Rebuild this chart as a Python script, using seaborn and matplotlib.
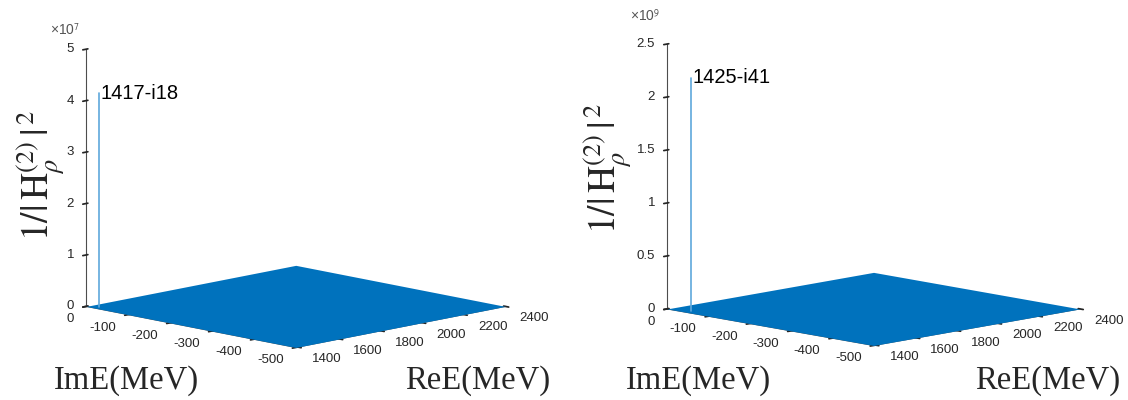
import matplotlib
matplotlib.use("Agg")
import matplotlib.pyplot as plt
from mpl_toolkits.mplot3d import proj3d
import seaborn as sns
import numpy as np

# surface domain (MeV)
re_range = [1390, 2400]
im_range = [-500, 0]
re_ticks = [1400, 1600, 1800, 2000, 2200, 2400]
im_ticks = [0, -100, -200, -300, -400, -500]

# pole positions and peak heights, one per panel
peak_re = [1417, 1425]
peak_im = [-18, -41]
peak_height = [4.15e7, 2.2e9]
peak_labels = ["1417-i18", "1425-i41"]
z_max = [5e7, 2.5e9]
z_ticks = [[0, 1, 2, 3, 4, 5], [0, 0.5, 1, 1.5, 2, 2.5]]
z_exp = [7, 9]

sns.set_theme(style="white")
plt.rcParams['font.family'] = ['Liberation Sans', 'DejaVu Sans']
plt.rcParams['mathtext.fontset'] = 'stix'
plt.rcParams['axes.unicode_minus'] = False

SURF = '#0072BD'
TXT = '#262626'

fig = plt.figure(figsize=(11.28, 4), dpi=100)
positions = [[0.0074, 0.042, 0.5, 1.0], [0.5196, 0.0453, 0.5, 1.0]]
elev = [11.3, 10.2]
z_aspect = [0.885, 0.922]
zoom = [1.20, 1.196]
exp_pos = [(0.0443, 0.912), (0.5585, 0.947)]
zlab_pos = [(0.037, 0.5625), (0.5395, 0.58)]
imlab_x = [0.0479, 0.555]
relab_x = [0.359, 0.8644]

axes = []
for i in range(2):
    ax = fig.add_axes(positions[i], projection='3d')
    ax.set_proj_type('ortho')
    ax.computed_zorder = False
    ax.patch.set_alpha(0)
    RE, IM = np.meshgrid(re_range, im_range)
    Z = np.zeros_like(RE, dtype=float)
    surf = ax.plot_surface(RE, IM, Z, color=SURF, shade=False, linewidth=0,
                           antialiased=False, zorder=1)
    surf.set_clip_on(False)
    spike, = ax.plot([peak_re[i], peak_re[i]], [peak_im[i], peak_im[i]],
                     [0, peak_height[i]], color='#5fa8dc', lw=1.2, zorder=3)
    spike.set_clip_on(False)

    ax.set_xlim(re_range)
    ax.set_ylim(im_range)
    ax.set_zlim(0, z_max[i])
    scale = 10 ** z_exp[i]
    ax.set_xticks(re_ticks)
    ax.set_yticks(im_ticks)
    ax.set_zticks([t * scale for t in z_ticks[i]])
    ax.set_xticklabels([])
    ax.set_yticklabels([])
    ax.set_zticklabels([])
    ax.grid(False)
    for axis in (ax.xaxis, ax.yaxis, ax.zaxis):
        axis.set_pane_color((1, 1, 1, 0))
        axis.line.set_color('#4d4d4d')
        axis.line.set_linewidth(0.8)
        axis.line.set_clip_on(False)
    ax.view_init(elev=elev[i], azim=-135)
    ax.set_box_aspect((1, 1, z_aspect[i]), zoom=zoom[i])
    axes.append(ax)

    fig.text(exp_pos[i][0], exp_pos[i][1], r'×10$^{\mathsf{%d}}$' % z_exp[i],
             fontsize=10, color='#555555', va='baseline')
    fig.text(imlab_x[i], 0.0275, 'ImE(MeV)', family='Liberation Serif', fontsize=23.5,
             color=TXT, va='baseline')
    fig.text(relab_x[i], 0.0275, 'ReE(MeV)', family='Liberation Serif', fontsize=23.5,
             color=TXT, va='baseline')
    fig.text(zlab_pos[i][0], zlab_pos[i][1],
             r'$1/|\,\mathrm{H}_{\rho}^{(2)}\,|^{\,2}$',
             fontsize=27, rotation=90, ha='center', va='center', color=TXT)

# draw once so the 3D projections are fixed, then place the labels
fig.canvas.draw()
W, H = fig.bbox.width, fig.bbox.height


def put(ax, x, y, z, s, dx, dy, **kw):
    px, py, _ = proj3d.proj_transform(x, y, z, ax.M)
    xd, yd = ax.transData.transform((px, py))
    fig.text((xd + dx) / W, (yd + dy) / H, s, **kw)


for i, ax in enumerate(axes):
    scale = 10 ** z_exp[i]
    for t in re_ticks:
        put(ax, t, im_range[0], 0, str(t), 14, -12, fontsize=9.5, color=TXT,
            ha='left', va='center')
    for t in im_ticks:
        put(ax, re_range[0], t, 0, str(t), -12, -13, fontsize=9.5, color=TXT,
            ha='right', va='center')
    for t in z_ticks[i]:
        put(ax, re_range[0], im_range[1], t * scale, f"{t:g}", -12, 0,
            fontsize=9.5, color=TXT, ha='right', va='center')
    put(ax, peak_re[i], peak_im[i], peak_height[i], peak_labels[i], 1, 0,
        fontsize=14.5, color='black', ha='left', va='center')

fig.savefig('out.png', dpi=100)
